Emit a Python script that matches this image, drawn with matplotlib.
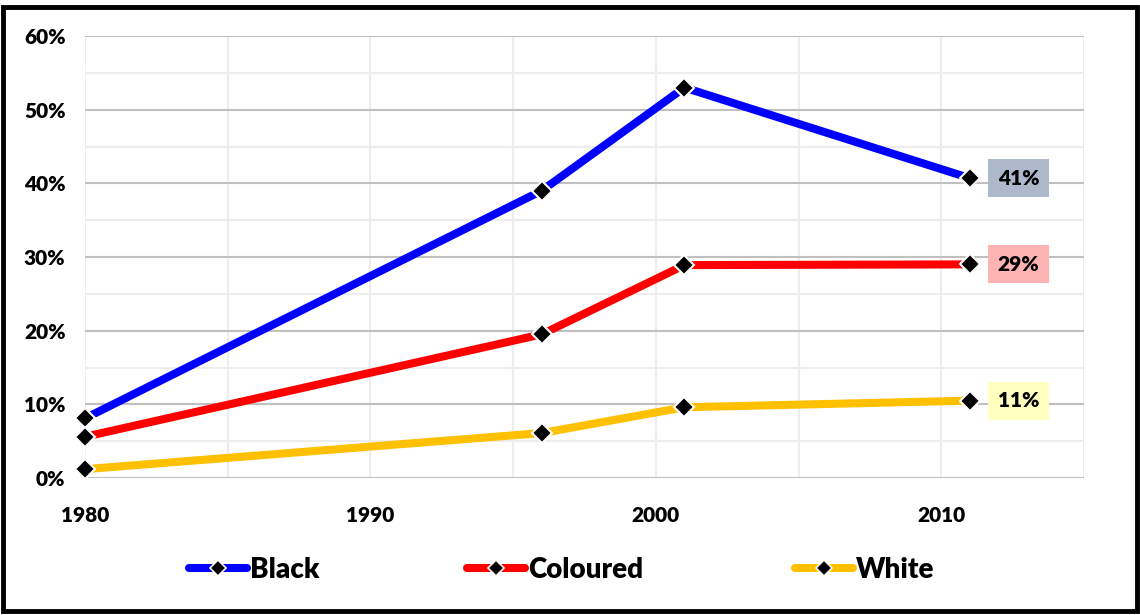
import matplotlib.pyplot as plt
from matplotlib.lines import Line2D
from matplotlib.patches import Rectangle
from matplotlib.ticker import MultipleLocator, PercentFormatter

plt.rcParams['font.family'] = ['Lato', 'DejaVu Sans']
plt.rcParams['font.weight'] = 'heavy'

# Census years and share of each group (%)
years = [1980, 1996, 2001, 2011]
groups = ['Black', 'Coloured', 'White']
black = [8.1, 39.0, 53.0, 40.7]
coloured = [5.6, 19.5, 28.9, 29.0]
white = [1.2, 6.1, 9.6, 10.5]
end_labels = ['41%', '29%', '11%']

line_colors = ['#0000FF', '#FF0000', '#FFC000']
box_colors = ['#ADB9CA', '#FFB3B3', '#FFFFBF']

fig = plt.figure(figsize=(11.4, 6.15), dpi=100)
ax = fig.add_axes([85 / 1140, 1 - 478 / 615, (1084 - 85) / 1140, (478 - 36) / 615])

for vals, col, lab, txt, bc in zip([black, coloured, white], line_colors, groups,
                                   end_labels, box_colors):
    ax.plot(years, vals, color=col, lw=5.8, solid_capstyle='butt', zorder=3,
            marker='D', ms=10, mfc='black', mec='white', mew=1.5, clip_on=False)
    ax.annotate(txt, (years[-1], vals[-1]), xytext=(35, 0), textcoords='offset points',
                ha='center', va='center', fontsize=15, fontweight='heavy',
                bbox=dict(boxstyle='square,pad=0.45', fc=bc, ec='none'), zorder=4)

ax.set_xlim(1980, 2015)
ax.set_ylim(0, 60)
ax.xaxis.set_major_locator(MultipleLocator(10))
ax.xaxis.set_minor_locator(MultipleLocator(5))
ax.yaxis.set_major_locator(MultipleLocator(10))
ax.yaxis.set_minor_locator(MultipleLocator(5))
ax.yaxis.set_major_formatter(PercentFormatter(decimals=0))

ax.grid(which='minor', color='#EDEDED', lw=1.5, zorder=0)
ax.grid(axis='y', which='major', color='#C0C0C0', lw=1.5, zorder=1)
ax.grid(axis='x', which='major', color='#EDEDED', lw=1.5, zorder=0)
ax.set_axisbelow(True)
for s in ax.spines.values():
    s.set_visible(False)
ax.tick_params(which='both', length=0)
ax.tick_params(axis='y', pad=14, labelsize=15)
ax.tick_params(axis='x', pad=20, labelsize=15)

# one legend per group, spread along the bottom
legend_x = [189, 467, 795]
for lab, col, x0 in zip(groups, line_colors, legend_x):
    h = Line2D([], [], color=col, lw=5.8, marker='D', ms=8, mfc='black',
               mec='white', mew=1.2, solid_capstyle='round')
    leg = fig.legend([h], [lab], loc='center left', bbox_to_anchor=(x0 / 1140, 1 - 570 / 615),
                     frameon=False, borderpad=0, borderaxespad=0, handlelength=2.1,
                     handletextpad=0.1, prop={'size': 20, 'weight': 'heavy'})

# black frame around the whole chart
fig.patches.append(Rectangle((2.5 / 1140, 1 - 611 / 615), 1134.5 / 1140, 604 / 615,
                             transform=fig.transFigure, fill=False, ec='black', lw=3.5))

fig.savefig('out.png', dpi=100)
